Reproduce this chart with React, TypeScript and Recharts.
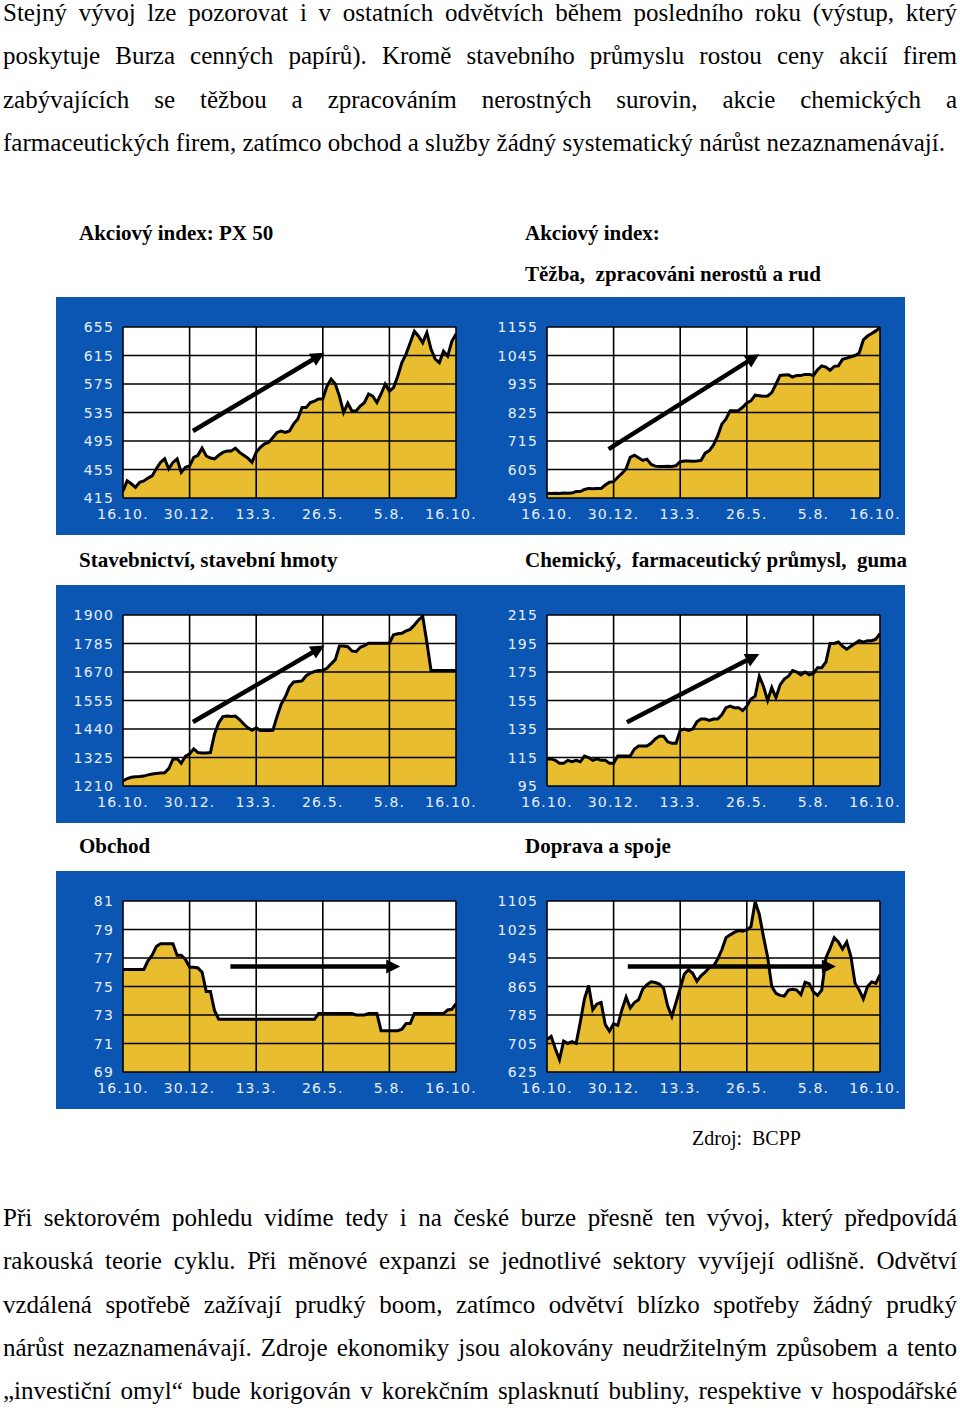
import React from 'react';
import { ComposedChart, Area, Line, XAxis, YAxis, CartesianGrid, ReferenceLine } from 'recharts';

// ---------- shared axis data ----------
const dateLabels = ['16.10.', '30.12.', '13.3.', '26.5.', '5.8.', '16.10.'];
const xTicks = [0, 16, 32, 48, 64, 80];

// ---------- series (81 samples each) ----------
const px50Values = [
  425, 439, 435, 430, 437, 439, 443, 446, 456, 465,
  470, 456, 465, 470, 451, 458, 460, 472, 475, 485,
  474, 471, 470, 475, 479, 481, 481, 485, 479, 475,
  471, 465, 479, 486, 491, 493, 500, 507, 509, 507,
  509, 519, 526, 542, 542, 549, 551, 554, 554, 572,
  582, 575, 558, 535, 548, 537, 537, 544, 549, 561,
  558, 549, 561, 575, 565, 570, 586, 605, 617, 633,
  649, 642, 633, 647, 624, 610, 605, 621, 614, 635,
  645,
];
const px50Ticks = [415, 455, 495, 535, 575, 615, 655];
const px50Arrow = [{ x: 16.8, y: 509 }, { x: 48.4, y: 619 }];

const tezbaValues = [
  513, 512, 513, 512, 514, 513, 514, 520, 520, 528,
  532, 531, 532, 532, 545, 556, 558, 575, 590, 608,
  652, 660, 650, 640, 645, 625, 618, 617, 617, 618,
  617, 620, 635, 638, 638, 637, 638, 640, 668, 678,
  700, 735, 780, 800, 832, 832, 833, 845, 862, 870,
  892, 890, 888, 889, 902, 934, 968, 970, 971, 962,
  968, 968, 972, 972, 968, 990, 1005, 1000, 988, 1003,
  1005, 1030, 1035, 1040, 1045, 1055, 1105, 1120, 1130, 1140,
  1152,
];
const tezbaTicks = [495, 605, 715, 825, 935, 1045, 1155];
const tezbaArrow = [{ x: 14.8, y: 684 }, { x: 51.0, y: 1050 }];

const stavValues = [
  1230, 1240, 1245, 1247, 1248, 1250, 1255, 1258, 1260, 1262,
  1263, 1280, 1318, 1320, 1302, 1330, 1340, 1360, 1345, 1343,
  1343, 1345, 1420, 1465, 1490, 1492, 1490, 1492, 1478, 1460,
  1445, 1435, 1445, 1434, 1434, 1434, 1435, 1490, 1540, 1570,
  1610, 1630, 1632, 1634, 1655, 1665, 1672, 1676, 1677, 1685,
  1703, 1720, 1775, 1775, 1772, 1755, 1752, 1770, 1776, 1786,
  1786, 1786, 1786, 1786, 1787, 1820, 1824, 1826, 1836, 1842,
  1860, 1880, 1895, 1790, 1676, 1676, 1676, 1676, 1676, 1676,
  1676,
];
const stavTicks = [1210, 1325, 1440, 1555, 1670, 1785, 1900];
const stavArrow = [{ x: 16.8, y: 1468 }, { x: 48.4, y: 1777 }];

const chemValues = [
  114, 114, 113, 111, 111, 113, 112, 113, 112, 116,
  115, 113, 114, 113, 113, 111, 111, 116, 116, 116,
  116, 121, 123, 123, 123, 125, 128, 130, 130, 126,
  125, 125, 134, 135, 134, 135, 140, 142, 142, 141,
  142, 142, 145, 150, 151, 150, 150, 148, 151, 156,
  158, 172, 165, 155, 164, 157, 166, 170, 172, 176,
  175, 173, 175, 173, 174, 178, 178, 182, 195, 195,
  196, 193, 191, 193, 195, 197, 196, 197, 197, 198,
  202,
];
const chemTicks = [95, 115, 135, 155, 175, 195, 215];
const chemArrow = [{ x: 19.2, y: 139.8 }, { x: 51.0, y: 187.7 }];

const obchodValues = [
  76.2, 76.2, 76.2, 76.2, 76.2, 76.2, 76.8, 77.2, 77.8, 78.0,
  78.0, 78.0, 78.0, 77.2, 77.2, 76.9, 76.35, 76.35, 76.3, 76.0,
  74.65, 74.65, 73.3, 72.7, 72.7, 72.7, 72.7, 72.7, 72.7, 72.7,
  72.7, 72.7, 72.7, 72.7, 72.7, 72.7, 72.7, 72.7, 72.7, 72.7,
  72.7, 72.7, 72.7, 72.7, 72.7, 72.7, 72.7, 73.1, 73.1, 73.1,
  73.1, 73.1, 73.1, 73.1, 73.1, 73.1, 73.0, 73.0, 73.0, 73.1,
  73.1, 73.1, 71.9, 71.9, 71.9, 71.9, 71.9, 72.0, 72.4, 72.4,
  73.1, 73.1, 73.1, 73.1, 73.1, 73.1, 73.1, 73.1, 73.35, 73.4,
  73.8,
];
const obchodTicks = [69, 71, 73, 75, 77, 79, 81];
const obchodArrow = [{ x: 25.8, y: 76.4 }, { x: 66.6, y: 76.4 }];

const dopravaValues = [
  716, 725, 690, 660, 712, 705, 710, 705, 765, 830,
  868, 800, 816, 820, 758, 740, 760, 756, 800, 835,
  805, 820, 828, 858, 870, 878, 876, 872, 860, 810,
  781, 820, 860, 900, 912, 902, 880, 895, 905, 918,
  922, 942, 968, 1002, 1010, 1017, 1022, 1020, 1024, 1033,
  1103, 1068, 1005, 948, 865, 846, 840, 838, 855, 857,
  855, 842, 877, 873, 850, 840, 855, 945, 972, 1002,
  990, 970, 990, 950, 874, 855, 830, 865, 878, 874,
  898,
];
const dopravaTicks = [625, 705, 785, 865, 945, 1025, 1105];
const dopravaArrow = [{ x: 19.4, y: 921 }, { x: 69.4, y: 921 }];

// ---------- text ----------
const para1Lines = [
  'Stejný vývoj lze pozorovat i v ostatních odvětvích během posledního roku (výstup, který',
  'poskytuje Burza cenných papírů). Kromě stavebního průmyslu rostou ceny akcií firem',
  'zabývajících se těžbou a zpracováním nerostných surovin, akcie chemických a',
  'farmaceutických firem, zatímco obchod a služby žádný systematický nárůst nezaznamenávají.',
];
const para2Lines = [
  'Při sektorovém pohledu vidíme tedy i na české burze přesně ten vývoj, který předpovídá',
  'rakouská teorie cyklu. Při měnové expanzi se jednotlivé sektory vyvíjejí odlišně. Odvětví',
  'vzdálená spotřebě zažívají prudký boom, zatímco odvětví blízko spotřeby žádný prudký',
  'nárůst nezaznamenávají. Zdroje ekonomiky jsou alokovány neudržitelným způsobem a tento',
  '„investiční omyl“ bude korigován v korekčním splasknutí bubliny, respektive v hospodářské',
];

const BLUE = '#0b55b3';
const GOLD = '#e8bd30';
const LABEL = '#e6eefc';
const TICKFONT = '"DejaVu Sans", sans-serif';
const SERIF = '"Liberation Serif", "Times New Roman", serif';

const ArrowShape = (p: any) => {
  const { x1, y1, x2, y2 } = p;
  if ([x1, y1, x2, y2].some((v) => typeof v !== 'number' || isNaN(v))) return <g />;
  const dx = x2 - x1;
  const dy = y2 - y1;
  const len = Math.hypot(dx, dy) || 1;
  const ux = dx / len;
  const uy = dy / len;
  const head = 14;
  const half = 7;
  const bx = x2 - ux * head;
  const by = y2 - uy * head;
  const pts = `${x2},${y2} ${bx - uy * half},${by + ux * half} ${bx + uy * half},${by - ux * half}`;
  return (
    <g>
      <line x1={x1} y1={y1} x2={bx + ux * 1} y2={by + uy * 1} stroke="#000" strokeWidth={4.5} />
      <polygon points={pts} fill="#000" />
    </g>
  );
};

const XTick = (p: any) => {
  const { x, y, payload } = p;
  const idx = Math.round(payload.value / 16);
  const shift = idx === dateLabels.length - 1 ? -5 : 0;
  return (
    <text
      x={x + shift}
      y={y}
      dy="0.71em"
      textAnchor="middle"
      fill={LABEL}
      fontSize={14}
      fontFamily={TICKFONT}
      letterSpacing={1.2}
    >
      {dateLabels[idx]}
    </text>
  );
};

const YTick = (p: any) => {
  const { x, y, payload } = p;
  return (
    <text
      x={x}
      y={y}
      dy="0.36em"
      textAnchor="end"
      fill={LABEL}
      fontSize={14}
      fontFamily={TICKFONT}
      letterSpacing={1.2}
    >
      {payload.value}
    </text>
  );
};

type PanelProps = {
  values: number[];
  yTicks: number[];
  arrow: { x: number; y: number }[];
  left: number;
  top: number;
  width: number;
};

function Panel({ values, yTicks, arrow, left, top, width }: PanelProps) {
  const data = values.map((v, i) => ({ x: i, v }));
  const rightMargin = width - 67 - 333;
  const yMin = yTicks[0];
  const yMax = yTicks[yTicks.length - 1];
  return (
    <div style={{ position: 'absolute', left, top, width, height: 238, background: BLUE }}>
      <ComposedChart
        width={width}
        height={238}
        data={data}
        margin={{ top: 30, right: rightMargin, bottom: 0, left: 0 }}
      >
        <CartesianGrid fill="#ffffff" horizontal={false} vertical={false} />
        <XAxis
          dataKey="x"
          type="number"
          domain={[0, 80]}
          ticks={xTicks}
          interval={0}
          height={37}
          axisLine={false}
          tickLine={false}
          tickSize={0}
          tickMargin={11}
          tick={XTick}
          allowDataOverflow
        />
        <YAxis
          type="number"
          domain={[yMin, yMax]}
          ticks={yTicks}
          interval={0}
          width={67}
          axisLine={false}
          tickLine={false}
          tickSize={0}
          tickMargin={9}
          tick={YTick}
          allowDataOverflow
        />
        <Area
          type="linear"
          dataKey="v"
          stroke="none"
          fill={GOLD}
          fillOpacity={1}
          isAnimationActive={false}
          activeDot={false}
        />
        {xTicks.map((t) => (
          <ReferenceLine key={'vx' + t} x={t} stroke="#000" strokeWidth={1.6} />
        ))}
        {yTicks.map((t) => (
          <ReferenceLine key={'hy' + t} y={t} stroke="#000" strokeWidth={1.6} />
        ))}
        <Line
          type="linear"
          dataKey="v"
          stroke="#000"
          strokeWidth={3}
          dot={false}
          activeDot={false}
          isAnimationActive={false}
        />
        <ReferenceLine segment={[arrow[0], arrow[1]]} shape={ArrowShape} stroke="#000" />
      </ComposedChart>
    </div>
  );
}

const headingStyle: React.CSSProperties = {
  position: 'absolute',
  fontFamily: SERIF,
  fontWeight: 'bold',
  fontSize: 21,
  lineHeight: '21px',
  whiteSpace: 'pre',
  color: '#000',
};

function TextLines({ lines, top, justifyLast }: { lines: string[]; top: number; justifyLast: boolean }) {
  return (
    <>
      {lines.map((l, i) => (
        <div
          key={i}
          style={{
            position: 'absolute',
            left: 3,
            width: 954,
            top: top + i * 43.3,
            fontFamily: SERIF,
            fontSize: 25,
            lineHeight: '25px',
            textAlign: 'justify',
            textAlignLast: i < lines.length - 1 || justifyLast ? 'justify' : 'left',
            color: '#000',
          }}
        >
          {l}
        </div>
      ))}
    </>
  );
}

export default function App() {
  return (
    <div
      style={{
        position: 'absolute',
        left: 0,
        top: 0,
        width: 960,
        height: 1408,
        background: '#fff',
        overflow: 'hidden',
      }}
    >
      <TextLines lines={para1Lines} top={0} justifyLast={false} />

      <div style={{ ...headingStyle, left: 79, top: 223 }}>Akciový index: PX 50</div>
      <div style={{ ...headingStyle, left: 525, top: 223 }}>Akciový index:</div>
      <div style={{ ...headingStyle, left: 525, top: 264 }}>Těžba,  zpracováni nerostů a rud</div>
      <div style={{ ...headingStyle, left: 79, top: 550 }}>Stavebnictví, stavební hmoty</div>
      <div style={{ ...headingStyle, left: 525, top: 550 }}>Chemický,  farmaceutický průmysl,  guma</div>
      <div style={{ ...headingStyle, left: 79, top: 836 }}>Obchod</div>
      <div style={{ ...headingStyle, left: 525, top: 836 }}>Doprava a spoje</div>

      <Panel values={px50Values} yTicks={px50Ticks} arrow={px50Arrow} left={56} top={297} width={424} />
      <Panel values={tezbaValues} yTicks={tezbaTicks} arrow={tezbaArrow} left={480} top={297} width={425} />
      <Panel values={stavValues} yTicks={stavTicks} arrow={stavArrow} left={56} top={585} width={424} />
      <Panel values={chemValues} yTicks={chemTicks} arrow={chemArrow} left={480} top={585} width={425} />
      <Panel values={obchodValues} yTicks={obchodTicks} arrow={obchodArrow} left={56} top={871} width={424} />
      <Panel values={dopravaValues} yTicks={dopravaTicks} arrow={dopravaArrow} left={480} top={871} width={425} />

      <div
        style={{
          position: 'absolute',
          left: 692,
          top: 1128,
          fontFamily: SERIF,
          fontSize: 20,
          lineHeight: '20px',
          whiteSpace: 'pre',
          color: '#000',
        }}
      >
        Zdroj:  BCPP
      </div>

      <TextLines lines={para2Lines} top={1205} justifyLast={true} />
    </div>
  );
}
